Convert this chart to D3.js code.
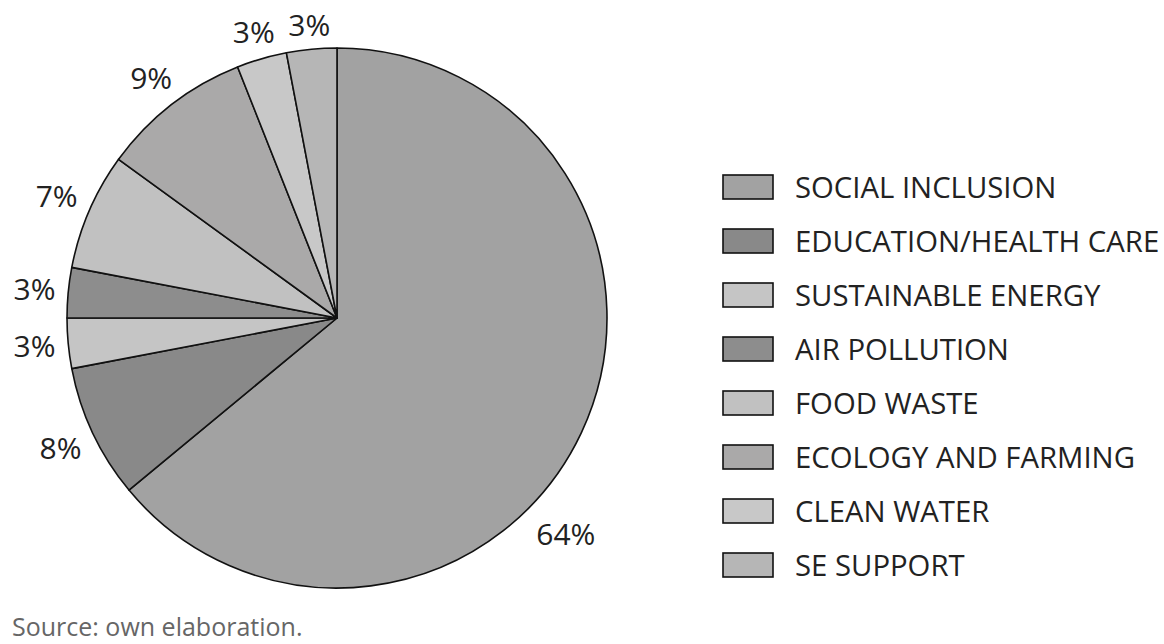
<!DOCTYPE html>
<html>
<head>
<meta charset="utf-8">
<script src="https://cdn.jsdelivr.net/npm/d3@7"></script>
<style>
  body { margin: 0; background: #fff; }
  svg { display: block; font-family: "Open Sans", sans-serif; }
</style>
</head>
<body>
<div id="chart"></div>
<script>
// Dữ liệu
const categories = ["SOCIAL INCLUSION", "EDUCATION/HEALTH CARE", "SUSTAINABLE ENERGY", "AIR POLLUTION",
    "FOOD WASTE", "ECOLOGY AND FARMING", "CLEAN WATER", "SE SUPPORT"];
const values = [64, 8, 3, 3, 7, 9, 3, 3];
const sliceColors = ["#a2a2a2", "#898989", "#c5c5c5", "#8d8d8d", "#c1c1c1", "#aaa9a9", "#c8c8c8", "#b6b6b6"];
const sourceNote = "Source: own elaboration.";

const width = 1164, height = 644;
const cx = 337, cy = 318, radius = 270;

const svg = d3.select("#chart")
    .append("svg")
    .attr("width", width)
    .attr("height", height);

const data = categories.map((c, i) => ({ name: c, value: values[i], color: sliceColors[i] }));

const pie = d3.pie()
    .sort(null)
    .value(d => d.value);

const arc = d3.arc()
    .innerRadius(0)
    .outerRadius(radius);

const g = svg.append("g")
    .attr("transform", `translate(${cx},${cy})`);

const arcs = pie(data);

g.selectAll("path")
    .data(arcs)
    .enter()
    .append("path")
    .attr("d", arc)
    .attr("fill", d => d.data.color)
    .attr("stroke", "#111")
    .attr("stroke-width", 1.6)
    .attr("stroke-linejoin", "round");

// Nhãn phần trăm bên ngoài hình tròn
const pct = g.selectAll("text.pct")
    .data(arcs)
    .enter()
    .append("text")
    .attr("class", "pct")
    .attr("text-anchor", "middle")
    .attr("dy", "0.36em")
    .style("font-size", "30px")
    .style("fill", "#222")
    .text(d => d.data.value + "%");

// Đặt nhãn: khoảng cách từ tâm = bán kính + khe hở + nửa khung chữ chiếu theo hướng
pct.attr("transform", function(d) {
    const bb = this.getBBox();
    let a = (d.startAngle + d.endAngle) / 2;
    let r;
    if (d.data.value > 50) {
        // lát lớn: nhãn ở phía dưới bên phải
        a = d.startAngle + (d.endAngle - d.startAngle) * 0.579;
        r = 315;
    } else {
        const s = Math.abs(Math.sin(a)), c = Math.abs(Math.cos(a));
        r = radius + 12 + (bb.width / 2) * s + (bb.height * 0.26) * c;
    }
    return `translate(${Math.sin(a) * r},${-Math.cos(a) * r})`;
});

// Chú thích
const ly = d3.scalePoint()
    .domain(categories)
    .range([187, 565]);

const legend = svg.selectAll(".legend")
    .data(data)
    .enter()
    .append("g")
    .attr("class", "legend")
    .attr("transform", d => `translate(723,${ly(d.name)})`);

legend.append("rect")
    .attr("x", 0)
    .attr("y", -12)
    .attr("width", 50)
    .attr("height", 24)
    .attr("fill", d => d.color)
    .attr("stroke", "#111")
    .attr("stroke-width", 1.6);

legend.append("text")
    .attr("x", 72)
    .attr("dy", "0.36em")
    .style("font-size", "29.3px")
    .style("fill", "#222")
    .text(d => d.name);

svg.append("text")
    .attr("x", 12)
    .attr("y", 636)
    .style("font-size", "25px")
    .style("fill", "#666")
    .text(sourceNote);
</script>
</body>
</html>
